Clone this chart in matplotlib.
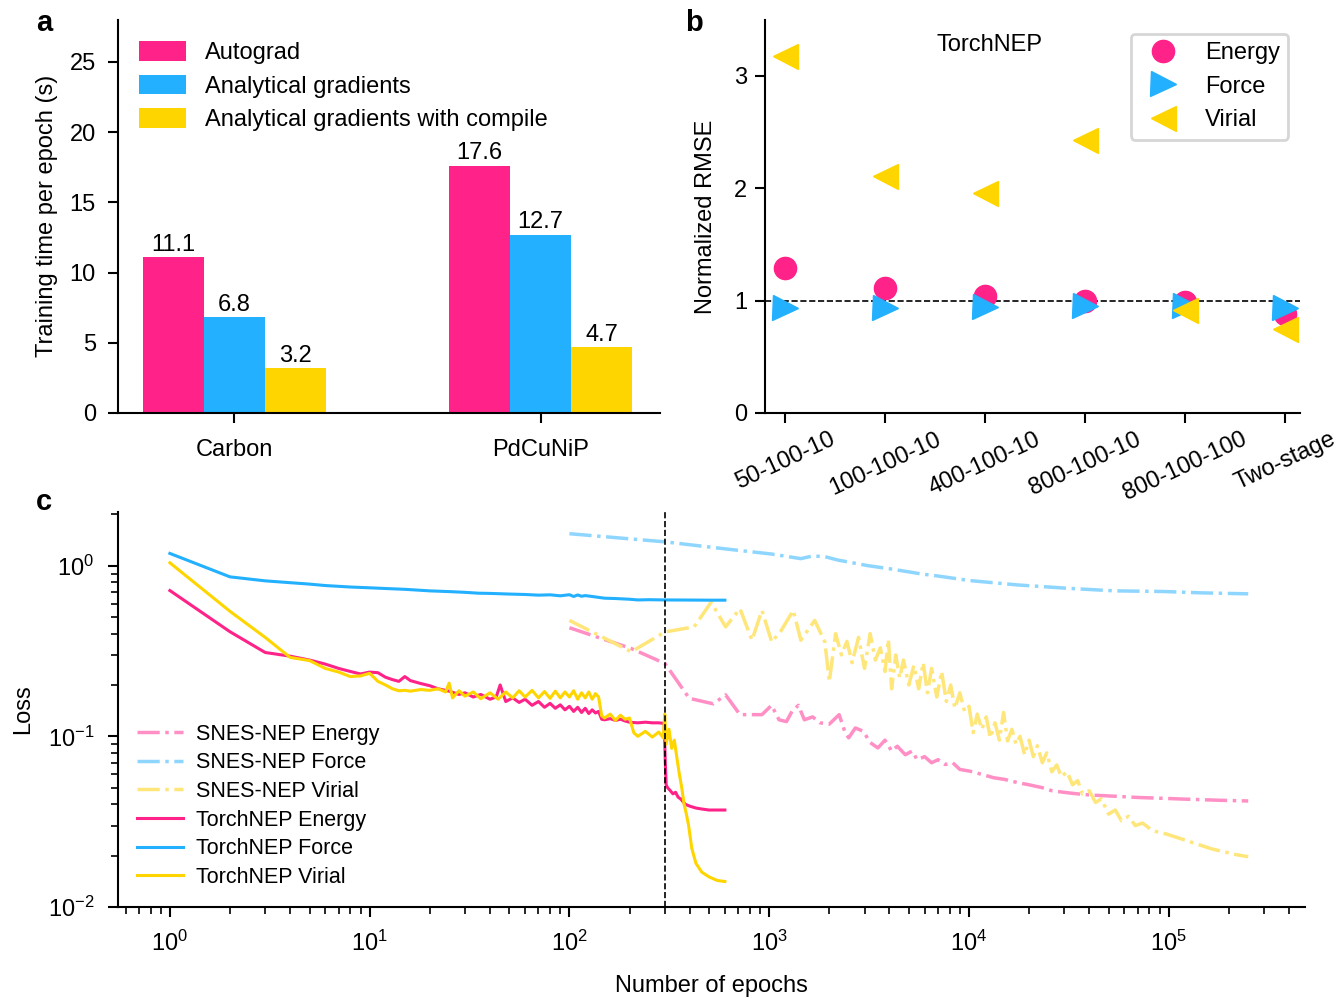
import matplotlib.pyplot as plt
from matplotlib.ticker import LogLocator, NullFormatter

plt.rcParams["font.family"] = ["Liberation Sans", "DejaVu Sans"]
plt.rcParams["mathtext.default"] = "regular"
plt.rcParams["axes.linewidth"] = 1.5

PINK = "#ff2288"
BLUE = "#22b0ff"
YELLOW = "#ffd500"
PINK_L = "#ff8fc4"
BLUE_L = "#8fd6ff"
YELLOW_L = "#ffe67a"

# panel a
systems = ["Carbon", "PdCuNiP"]
autograd = [11.1, 17.6]
analytical = [6.8, 12.7]
analytical_compile = [3.2, 4.7]

# panel b
configs = ["50-100-10", "100-100-10", "400-100-10", "800-100-10", "800-100-100", "Two-stage"]
rmse_energy = [1.29, 1.11, 1.04, 1.00, 0.99, 0.88]
rmse_force = [0.93, 0.93, 0.94, 0.95, 0.95, 0.93]
rmse_virial = [3.18, 2.11, 1.96, 2.43, 0.92, 0.75]

# panel c - TorchNEP
torch_e_ep = [1, 2, 3, 4, 5, 6, 7, 8, 9, 10, 11, 12, 13, 14, 15, 16, 18, 20, 22, 25, 28, 30, 33, 36,
              40, 43, 45, 48, 52, 56, 60, 65, 70, 75, 80, 85, 90, 95, 100, 105, 110, 115, 120, 125,
              130, 135, 140, 145, 150, 160, 170, 180, 190, 200, 220, 240, 260, 280, 298, 302, 305,
              310, 320, 330, 340, 350, 360, 380, 400, 430, 460, 500, 550, 600]
torch_e = [0.715, 0.41, 0.31, 0.295, 0.28, 0.265, 0.25, 0.24, 0.232, 0.238, 0.236, 0.222, 0.215,
           0.21, 0.224, 0.212, 0.204, 0.198, 0.19, 0.184, 0.176, 0.18, 0.17, 0.176, 0.165, 0.17,
           0.2, 0.16, 0.168, 0.158, 0.165, 0.152, 0.16, 0.148, 0.156, 0.146, 0.153, 0.143, 0.15,
           0.14, 0.148, 0.138, 0.146, 0.136, 0.143, 0.137, 0.14, 0.126, 0.125, 0.127, 0.124, 0.126,
           0.123, 0.121, 0.12, 0.121, 0.12, 0.12, 0.119, 0.07, 0.052, 0.05, 0.048, 0.046, 0.047,
           0.044, 0.043, 0.04, 0.039, 0.038, 0.0375, 0.037, 0.037, 0.037]

torch_f_ep = [1, 2, 3, 4, 5, 6, 8, 10, 12, 15, 20, 25, 30, 35, 40, 50, 60, 70, 80, 90, 100, 105,
              110, 115, 120, 130, 140, 150, 170, 200, 220, 250, 300, 400, 500, 600]
torch_f = [1.18, 0.86, 0.815, 0.795, 0.78, 0.765, 0.75, 0.742, 0.735, 0.727, 0.712, 0.705, 0.698,
           0.69, 0.688, 0.682, 0.678, 0.672, 0.675, 0.666, 0.676, 0.66, 0.674, 0.662, 0.668, 0.66,
           0.652, 0.645, 0.642, 0.636, 0.63, 0.632, 0.63, 0.629, 0.628, 0.628]

torch_v_ep = [1, 2, 3, 4, 5, 6, 7, 8, 9, 10, 11, 12, 13, 14, 15, 16, 18, 20, 22, 24, 25, 26, 28,
              30, 33, 36, 40, 44, 48, 52, 56, 60, 65, 70, 75, 80, 85, 90, 95, 100, 105, 110, 115,
              120, 125, 130, 135, 140, 145, 150, 160, 170, 180, 190, 200, 210, 220, 240, 260, 280,
              295, 300, 305, 315, 325, 335, 345, 355, 365, 375, 385, 395, 410, 430, 460, 500, 550,
              600]
torch_v = [1.04, 0.54, 0.38, 0.29, 0.278, 0.25, 0.238, 0.224, 0.226, 0.234, 0.21, 0.2, 0.19,
           0.185, 0.186, 0.184, 0.188, 0.186, 0.19, 0.182, 0.205, 0.168, 0.185, 0.172, 0.182,
           0.166, 0.18, 0.165, 0.182, 0.168, 0.185, 0.17, 0.186, 0.168, 0.183, 0.167, 0.184, 0.168,
           0.182, 0.17, 0.185, 0.165, 0.18, 0.168, 0.182, 0.165, 0.178, 0.17, 0.132, 0.128, 0.135,
           0.124, 0.133, 0.126, 0.128, 0.105, 0.1, 0.107, 0.099, 0.106, 0.098, 0.135, 0.09, 0.11,
           0.085, 0.095, 0.075, 0.06, 0.05, 0.04, 0.035, 0.03, 0.022, 0.018, 0.016, 0.015, 0.0143,
           0.0141]

# panel c - SNES-NEP
snes_f_ep = [100, 300, 620, 1030, 1440, 1650, 1900, 2200, 3130, 4000, 5800, 7000, 10100, 17600,
             30700, 53600, 94000, 147000, 250000]
snes_f = [1.54, 1.38, 1.25, 1.17, 1.10, 1.14, 1.13, 1.08, 1.0, 0.96, 0.894, 0.87, 0.818, 0.771,
          0.738, 0.712, 0.706, 0.693, 0.684]

snes_e_ep = [100, 204, 301, 398, 526, 605, 714, 920, 1028, 1120, 1220, 1300, 1400, 1500, 1650,
             1800, 2000, 2240, 2400, 2500, 2700, 2960, 3200, 3500, 3800, 4100, 4380, 4800, 5200,
             5500, 6000, 6500, 7000, 7600, 8300, 9000, 10100, 11500, 13300, 15000, 17600, 20000,
             23300, 26000, 30700, 35000, 40600, 55000, 71000, 95000, 124000, 180000, 250000]
snes_e = [0.433, 0.327, 0.267, 0.167, 0.155, 0.175, 0.134, 0.134, 0.152, 0.125, 0.122, 0.14,
          0.152, 0.125, 0.13, 0.12, 0.118, 0.134, 0.105, 0.098, 0.112, 0.107, 0.092, 0.0855,
          0.095, 0.082, 0.0875, 0.078, 0.082, 0.073, 0.076, 0.07, 0.073, 0.0684, 0.07, 0.064,
          0.0625, 0.06, 0.0572, 0.056, 0.0535, 0.052, 0.05, 0.048, 0.0468, 0.046, 0.0453, 0.0445,
          0.0438, 0.0433, 0.0428, 0.0422, 0.0418]

snes_v_ep = [100, 204, 301, 421, 512, 605, 714, 820, 920, 1030, 1150, 1320, 1440, 1690, 1900,
             2000, 2150, 2300, 2450, 2600, 2800, 3000, 3200, 3400, 3600, 3800, 3950, 4100, 4300,
             4500, 4700, 5000, 5300, 5600, 5900, 6200, 6500, 6900, 7300, 7700, 8100, 8500, 9000,
             9500, 10000, 10500, 11000, 11600, 12200, 12800, 13500, 14200, 14900, 15600, 16400,
             17200, 18000, 19000, 20000, 21000, 22000, 23300, 24500, 26000, 27500, 29000, 31000,
             33000, 35000, 37000, 40000, 43000, 46000, 50000, 54000, 58000, 63000, 68000, 74000,
             83000, 98000, 124000, 164000, 216000, 250000]
snes_v = [0.478, 0.313, 0.409, 0.438, 0.611, 0.438, 0.56, 0.366, 0.547, 0.357, 0.418, 0.547,
          0.366, 0.478, 0.357, 0.209, 0.40, 0.30, 0.36, 0.27, 0.38, 0.25, 0.40, 0.28, 0.33, 0.24,
          0.37, 0.19, 0.30, 0.22, 0.28, 0.20, 0.26, 0.19, 0.27, 0.18, 0.25, 0.17, 0.24, 0.16, 0.20,
          0.146, 0.18, 0.14, 0.15, 0.105, 0.135, 0.11, 0.13, 0.098, 0.12, 0.095, 0.138, 0.094,
          0.11, 0.09, 0.10, 0.078, 0.095, 0.076, 0.088, 0.07, 0.08, 0.062, 0.068, 0.058, 0.062,
          0.052, 0.055, 0.046, 0.048, 0.041, 0.043, 0.035, 0.037, 0.032, 0.034, 0.03, 0.031,
          0.028, 0.0267, 0.0244, 0.0219, 0.0203, 0.0197]

FS = 17

fig = plt.figure(figsize=(13.38, 9.98), dpi=100)
ax_a = fig.add_axes([0.0882, 0.5862, 0.405, 0.394])
ax_b = fig.add_axes([0.5717, 0.5862, 0.400, 0.394])
ax_c = fig.add_axes([0.0882, 0.0912, 0.887, 0.396])

for ax in (ax_a, ax_b, ax_c):
    ax.spines["top"].set_visible(False)
    ax.spines["right"].set_visible(False)
    ax.tick_params(width=1.5, length=7, labelsize=FS)

# ---- a
width = 0.2
x = list(range(len(systems)))
series = [(autograd, PINK, "Autograd"),
          (analytical, BLUE, "Analytical gradients"),
          (analytical_compile, YELLOW, "Analytical gradients with compile")]
for i, (vals, color, label) in enumerate(series):
    pos = [xi + (i - 1) * width for xi in x]
    bars = ax_a.bar(pos, vals, width, color=color, label=label)
    ax_a.bar_label(bars, labels=[f"{v:.1f}" for v in vals], padding=1, fontsize=FS)
ax_a.set_xticks(x)
ax_a.set_xticklabels(systems)
ax_a.set_xlim(-0.38, 1.39)
ax_a.set_ylim(0, 28)
ax_a.set_yticks([0, 5, 10, 15, 20, 25])
ax_a.tick_params(axis="y", pad=9)
ax_a.set_ylabel("Training time per epoch (s)", fontsize=FS, labelpad=8)
ax_a.tick_params(axis="x", pad=12)
ax_a.legend(loc="upper left", bbox_to_anchor=(0.0, 1.0), frameon=False, fontsize=FS,
            handlelength=2.0, handleheight=0.9, handletextpad=0.8, labelspacing=0.45)
fig.text(0.027, 0.977, "a", fontsize=21, fontweight="bold", va="center")

# ---- b
xb = list(range(len(configs)))
ax_b.plot(xb, rmse_energy, "o", color=PINK, markersize=16, label="Energy")
ax_b.plot(xb, rmse_force, ">", color=BLUE, markersize=18, label="Force")
ax_b.plot(xb, rmse_virial, "<", color=YELLOW, markersize=18, label="Virial")
ax_b.axhline(1.0, color="black", linestyle="--", linewidth=1.2, zorder=0)
ax_b.set_xlim(-0.2, 5.15)
ax_b.set_ylim(0, 3.5)
ax_b.set_yticks([0, 1, 2, 3])
ax_b.set_xticks(xb)
ax_b.set_xticklabels(configs, rotation=25, ha="center")
ax_b.tick_params(axis="x", pad=4)
ax_b.tick_params(axis="y", pad=6)
ax_b.set_ylabel("Normalized RMSE", fontsize=FS, labelpad=12)
ax_b.text(0.42, 0.92, "TorchNEP", transform=ax_b.transAxes, fontsize=FS, ha="center")
leg_b = ax_b.legend(loc="upper right", bbox_to_anchor=(1.0, 0.995), fontsize=FS,
                    handletextpad=0.8, labelspacing=0.5, borderpad=0.35, fancybox=True)
leg_b.get_frame().set_edgecolor("#cccccc")
leg_b.get_frame().set_linewidth(2)
fig.text(0.512, 0.977, "b", fontsize=21, fontweight="bold", va="center")

# ---- c
lw_d = 2.5
ax_c.plot(snes_e_ep, snes_e, "-.", color=PINK_L, linewidth=lw_d, label="SNES-NEP Energy")
ax_c.plot(snes_f_ep, snes_f, "-.", color=BLUE_L, linewidth=lw_d, label="SNES-NEP Force")
ax_c.plot(snes_v_ep, snes_v, "-.", color=YELLOW_L, linewidth=lw_d, label="SNES-NEP Virial")
ax_c.plot(torch_e_ep, torch_e, "-", color=PINK, linewidth=2.2, label="TorchNEP Energy")
ax_c.plot(torch_f_ep, torch_f, "-", color=BLUE, linewidth=2.2, label="TorchNEP Force")
ax_c.plot(torch_v_ep, torch_v, "-", color=YELLOW, linewidth=2.2, label="TorchNEP Virial")
ax_c.axvline(300, color="black", linestyle="--", linewidth=1.2)
ax_c.set_xscale("log")
ax_c.set_yscale("log")
ax_c.set_xlim(0.55, 4.8e5)
ax_c.set_ylim(0.01, 2.07)
ax_c.xaxis.set_major_locator(LogLocator(base=10, numticks=12))
ax_c.xaxis.set_minor_locator(LogLocator(base=10, subs=range(2, 10), numticks=12))
ax_c.xaxis.set_minor_formatter(NullFormatter())
ax_c.yaxis.set_minor_formatter(NullFormatter())
ax_c.tick_params(which="minor", width=1.2, length=5)
ax_c.tick_params(axis="x", which="major", pad=10)
ax_c.tick_params(axis="y", which="major", pad=10)
ax_c.set_xlabel("Number of epochs", fontsize=FS, labelpad=14)
ax_c.set_ylabel("Loss", fontsize=FS, labelpad=10)
ax_c.legend(loc="lower left", bbox_to_anchor=(0.0, 0.0), frameon=False, fontsize=15.5,
            handlelength=2.1, handletextpad=0.6, labelspacing=0.35)
fig.text(0.027, 0.497, "c", fontsize=21, fontweight="bold", va="center")

fig.savefig("out.png", dpi=100)
